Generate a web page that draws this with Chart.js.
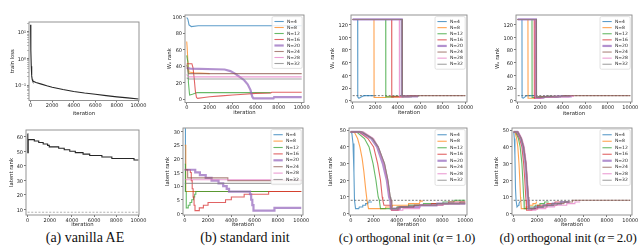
<!DOCTYPE html>
<html>
<head>
<meta charset="utf-8">
<script src="https://cdn.jsdelivr.net/npm/chart.js@4.4.1/dist/chart.umd.min.js"></script>
<style>
  body { margin: 0; width: 640px; height: 247px; overflow: hidden; background: #fff; position: relative; }
  canvas { position: absolute; }
  .cap { position: absolute; top: 230px; font-family: "Liberation Serif", serif; font-size: 14px; line-height: 16px; color: #111; white-space: nowrap; transform: translateX(-50%); }
  .cap.narrow { font-size: 13px; letter-spacing: -0.2px; }
  .ytick { position: absolute; font-family: "DejaVu Sans", sans-serif; font-size: 5px; line-height: 6px; color: #1a1a1a; white-space: nowrap; transform: translate(-100%, -50%); }
</style>
</head>
<body>
<div class="cap" style="left:85px">(a) vanilla AE</div>
<div class="cap" style="left:245px">(b) standard init</div>
<div class="cap narrow" style="left:407px">(c) orthogonal init (<i>α</i>&#8201;=&#8201;1.0)</div>
<div class="cap narrow" style="left:568px">(d) orthogonal init (<i>α</i>&#8201;=&#8201;2.0)</div>

<script>
// ---- data ----
const iterTicks = [0, 2000, 4000, 6000, 8000, 10000];
const nLabels = ['N=4', 'N=8', 'N=12', 'N=16', 'N=20', 'N=24', 'N=28', 'N=32'];
const latentDim = 8;

// (a) vanilla AE
const lossIter = [0, 10, 30, 60, 100, 150, 200, 500, 1000, 1500, 2000, 3000, 4000, 5000, 6000, 7000, 8000, 9000, 10000];
const lossVal  = [18, 12, 2.0, 0.5, 0.22, 0.16, 0.14, 0.125, 0.108, 0.094, 0.083, 0.068, 0.057, 0.05, 0.045, 0.04, 0.036, 0.033, 0.03];
const lossTicks = [0.1, 1, 10];
const lossTickText = ['10\u207B\u00B9', '10\u2070', '10\u00B9'];
const lossMinor = [0.03, 0.04, 0.05, 0.06, 0.07, 0.08, 0.09, 0.2, 0.3, 0.4, 0.5, 0.6, 0.7, 0.8, 0.9, 2, 3, 4, 5, 6, 7, 8, 9, 20];
const aeRankIter = [0, 15, 50, 600, 1000, 1400, 1800, 1950, 2800, 3300, 3800, 4300, 5000, 5600, 6700, 7600, 9600, 10000];
const aeRankVal  = [62, 49, 58, 57, 56, 55, 54, 53, 52, 51, 50, 49, 48, 47, 46, 45, 44, 44];
const aeRankTicks = [10, 20, 30, 40, 50, 60];

// (b) standard init  — [iteration, value] pairs, one list per N
const stdWRank = [
  [[0,99],[100,97],[200,90],[400,88],[1000,89],[10000,89]],
  [[0,70],[50,60],[120,40],[200,33],[600,32],[2000,31]],
  [[0,53],[100,45],[150,20],[250,5],[500,6],[900,8],[7300,8]],
  [[0,43],[450,43],[550,38],[650,25],[750,10],[850,2],[950,1],[1500,2],[2000,3],[3000,4],[4000,5],[5000,6],[6000,7],[7300,7.5],[7400,8.5],[10000,8.5]],
  [[0,38],[300,37],[3300,36],[3800,34],[4200,31],[4600,27],[5000,23],[5300,18],[5550,11],[5700,3],[5800,1],[7550,1],[7600,2.5],[10000,2.5]],
  [[0,42],[150,31],[10000,31]],
  [[0,30],[150,27],[10000,27]],
  [[0,26],[150,24.5],[10000,24.5]]
];
const stdLatent = [
  [[0,31],[60,8],[10000,8]],
  [[0,25],[90,8],[10000,8]],
  [[0,18],[60,8],[130,2],[300,3],[450,4],[600,5],[750,6],[850,7],[950,8],[7200,8]],
  [[0,16],[480,15],[560,12],[640,9],[720,6],[800,3],[880,1],[1250,2],[1600,3],[2000,4],[3500,5],[4000,6],[5100,7],[7200,8],[10000,8]],
  [[0,16],[900,15],[1300,14],[1800,13],[2300,12],[2900,11],[3300,10],[3600,9],[3800,8],[5600,7],[5700,5],[5800,3],[5900,1],[7700,2],[10000,2]],
  [[0,16],[250,13],[3700,12],[10000,12]],
  [[0,12.3],[10000,12.3]],
  [[0,11],[10000,11]]
];
const stdWTicks = [0, 20, 40, 60, 80, 100];
const stdLatentTicks = [0, 5, 10, 15, 20, 25, 30];

// (c) orthogonal init, alpha = 1.0
const orth1WRank = [
  [[0,128],[440,128],[450,6],[550,4],[750,6],[1000,8],[2000,8]],
  [[0,128],[1890,128],[1900,5],[2900,5],[3000,6],[4500,6],[4600,7],[5600,7]],
  [[0,128],[2930,128],[2940,6],[3600,6],[3700,7],[5600,7]],
  [[0,128],[3460,128],[3470,6],[4200,6],[4300,7],[5800,7]],
  [[0,128],[4350,128],[4360,7],[5800,7]],
  [[0,128],[4400,128],[4410,7],[5000,7],[5100,8],[10000,8]],
  [[0,128],[4140,128],[4150,6],[5000,6],[5100,7],[5800,7]],
  [[0,128],[4380,128],[4390,6],[5200,6],[5300,7],[5900,7]]
];
const orth1Latent = [
  [[0,49],[100,48],[200,42],[280,25],[330,8],[420,3],[700,3],[750,4],[1000,4],[1050,5],[1250,5],[1300,6],[1450,6],[1500,7],[1850,7]],
  [[0,49],[300,49],[600,45],[800,40],[1000,33],[1150,25],[1300,15],[1420,8],[1550,3],[3000,3],[3050,4],[3600,4],[3650,5],[5000,5],[5050,6],[6000,6],[6050,7.5],[6300,7.5]],
  [[0,49],[500,49],[1200,45],[1600,40],[1950,30],[2200,20],[2400,10],[2500,8],[2600,3],[4000,3],[4050,4],[5000,4],[5050,5],[6300,5],[6350,6],[8000,6],[8050,7],[9000,7],[9050,8],[10000,8]],
  [[0,49],[700,49],[1500,45],[2000,40],[2350,30],[2600,20],[2750,10],[2800,8],[2900,5],[3500,5],[3550,2],[4200,2],[4250,4],[5500,4],[5550,5],[7000,5],[7050,6],[8500,6],[8550,7],[10000,7]],
  [[0,49],[800,49],[1800,45],[2300,40],[2800,30],[3150,20],[3350,10],[3450,8],[3500,3],[4300,3],[4350,4],[6000,4],[6050,5],[7500,5],[7550,6],[10000,6]],
  [[0,49],[900,49],[1900,45],[2400,40],[2950,30],[3250,20],[3450,10],[3550,8],[3600,2],[4100,2],[4150,4],[5500,4],[5550,5],[8000,5],[8050,6],[9500,6],[9550,7],[10000,7]],
  [[0,49],[1100,49],[2000,45],[2400,40],[2900,30],[3200,20],[3400,10],[3500,8],[3600,2],[4500,2],[4550,3],[6000,3],[6050,5],[8000,5],[8050,6],[10000,6]],
  [[0,49],[1000,49],[1900,45],[2400,40],[2950,30],[3250,20],[3450,10],[3500,8],[3550,3],[4000,3],[4050,4],[5000,4],[5050,5],[7500,5],[7550,6],[10000,6]]
];

// (d) orthogonal init, alpha = 2.0
const orth2WRank = [
  [[0,128],[380,128],[390,5],[500,4],[650,6],[800,8],[1500,8]],
  [[0,128],[910,128],[920,4],[1500,4],[1550,5],[2000,5],[2050,6],[2500,6]],
  [[0,128],[1270,128],[1280,5],[1800,5],[1850,6],[2500,6],[2550,7],[3000,7]],
  [[0,128],[1470,128],[1480,4],[2000,4],[2050,5],[2800,5],[2850,6],[3500,6]],
  [[0,128],[1620,128],[1630,5],[2300,5],[2350,6],[3500,6],[3550,7],[4800,7]],
  [[0,128],[1650,128],[1660,6],[2500,6],[2550,7],[4000,7],[4050,8],[10000,8]],
  [[0,128],[1560,128],[1570,4],[2200,4],[2250,5],[3200,5],[3250,6],[4500,6],[4550,7],[5000,7]],
  [[0,128],[1640,128],[1650,5],[2400,5],[2450,6],[3800,6],[3850,7],[4700,7]]
];
const orth2Latent = [
  [[0,49],[50,45],[100,35],[150,15],[200,8],[280,4],[350,4],[400,5],[450,6],[500,7],[600,7.5]],
  [[0,49],[100,49],[250,45],[350,40],[450,30],[520,20],[580,10],[600,8],[650,3],[1000,3],[1050,4],[1300,4],[1350,5],[1600,5],[1650,6],[1900,6],[1950,7],[2000,7]],
  [[0,49],[150,49],[400,45],[550,40],[700,30],[780,20],[850,10],[880,8],[900,3],[1300,3],[1350,4],[1800,4],[1850,5],[2200,5],[2250,6],[2600,6],[2650,7],[3000,7]],
  [[0,49],[200,49],[500,45],[700,40],[850,30],[950,20],[1030,10],[1060,8],[1100,2],[1500,2],[1550,3],[2000,3],[2050,5],[2800,5],[2850,6],[3500,6],[3550,7],[4000,7]],
  [[0,49],[300,49],[600,45],[800,40],[1000,30],[1100,20],[1200,10],[1230,8],[1270,3],[1800,3],[1850,4],[2500,4],[2550,5],[3300,5],[3350,6],[4000,6],[4050,7],[4800,7]],
  [[0,49],[350,49],[650,45],[850,40],[1050,30],[1150,20],[1250,10],[1280,8],[1320,3],[2000,3],[2050,4],[2800,4],[2850,5],[3700,5],[3750,6],[4300,6],[4350,7],[5000,7],[5050,8],[10000,8]],
  [[0,49],[400,49],[700,45],[900,40],[1080,30],[1180,20],[1270,10],[1300,8],[1340,2],[1900,2],[1950,3],[2700,3],[2750,4],[3500,4],[3550,5],[4500,5],[4550,6],[5200,6],[5250,7],[5700,7]],
  [[0,49],[350,49],[650,45],[850,40],[1050,30],[1150,20],[1250,10],[1280,8],[1310,3],[1700,3],[1750,4],[2500,4],[2550,5],[3200,5],[3250,6],[4000,6],[4050,7],[4700,7]]
];
const orthWTicks = [0, 20, 40, 60, 80, 100, 120];
const orthLatentTicks = [0, 10, 20, 30, 40, 50];

// ---- styling ----
const nColors = ['#1f77b4', '#ff7f0e', '#2ca02c', '#d62728', '#9467bd', '#8c564b', '#e377c2', '#7f7f7f'];
const FONT = '"DejaVu Sans", sans-serif';
const TICK_SIZE = 5;
const TITLE_SIZE = 5.3;
const TITLE_LH = TITLE_SIZE * 1.2;
const TICK_LEN = 2;

function fade(hex, a) {
  const n = parseInt(hex.slice(1), 16);
  return `rgba(${n >> 16},${(n >> 8) & 255},${n & 255},${a})`;
}

// box outline drawn on top of the lines, like matplotlib spines
const framePlugin = {
  id: 'frame',
  afterDatasetsDraw(chart) {
    const a = chart.chartArea, ctx = chart.ctx;
    ctx.save();
    ctx.strokeStyle = '#888';
    ctx.lineWidth = 0.9;
    ctx.strokeRect(a.left, a.top, a.right - a.left, a.bottom - a.top);
    ctx.restore();
  }
};

// legend inside the axes, upper right
const innerLegend = {
  id: 'innerLegend',
  afterDraw(chart, args, opts) {
    if (!opts.show) return;
    const ctx = chart.ctx, area = chart.chartArea;
    const items = chart.data.datasets.filter(d => d.inLegend);
    const rowH = opts.rowH, pad = 2.4, lineLen = 9.3, gap = 3.2;
    ctx.save();
    ctx.font = `${opts.size}px ${FONT}`;
    const tw = Math.max(...items.map(d => ctx.measureText(d.label).width));
    const w = pad + lineLen + gap + tw + pad;
    const h = pad * 2 + rowH * items.length - 1;
    const x0 = area.right - 1.8 - w, y0 = area.top + 1.6;
    ctx.beginPath();
    ctx.roundRect(x0, y0, w, h, 1.5);
    ctx.fillStyle = 'rgba(255,255,255,0.85)';
    ctx.fill();
    ctx.strokeStyle = '#d6d6d6';
    ctx.lineWidth = 0.7;
    ctx.stroke();
    ctx.textBaseline = 'middle';
    items.forEach((d, i) => {
      const y = y0 + pad + rowH * (i + 0.5) - 0.5;
      ctx.beginPath();
      ctx.moveTo(x0 + pad, y);
      ctx.lineTo(x0 + pad + lineLen, y);
      ctx.strokeStyle = d.borderColor;
      ctx.lineWidth = d.borderWidth;
      ctx.stroke();
      ctx.fillStyle = '#222';
      ctx.fillText(d.label, x0 + pad + lineLen + gap, y);
    });
    ctx.restore();
  }
};

function nSeries(list, stepped) {
  return list.map((pts, i) => ({
    label: nLabels[i],
    inLegend: true,
    data: pts,
    borderColor: fade(nColors[i], 0.72),
    borderWidth: i === 4 ? 2.2 : 1.1,
    stepped: stepped,
    order: -i
  }));
}

function refLine(color) {
  return {
    label: 'latent dim',
    data: [[0, latentDim], [10000, latentDim]],
    borderColor: color,
    borderWidth: 0.8,
    borderDash: [2, 1.6],
    order: 100
  };
}

function makePanel(p) {
  const [L, T, R, B] = p.box;
  const Wy = L - p.yTitleX + TITLE_LH / 2;
  const Hx = p.xTitleY - B + TITLE_LH / 2;
  const offL = 40, offT = 8, padR = 14;
  const cv = document.createElement('canvas');
  const width = Math.round(R - L) + offL + padR;
  const height = Math.ceil(B - T + offT + Hx + 3);
  const cvLeft = L - offL, cvTop = T - offT;
  cv.width = width; cv.height = height;
  cv.style.left = cvLeft + 'px';
  cv.style.top = cvTop + 'px';
  document.body.appendChild(cv);

  const tickFont = { family: FONT, size: TICK_SIZE };
  const titleFont = { family: FONT, size: TITLE_SIZE };
  const markTicks = p.yTicks.concat(p.yMinor || []);

  const chart = new Chart(cv, {
    type: 'line',
    data: { datasets: p.datasets },
    options: {
      responsive: false,
      animation: false,
      devicePixelRatio: 1,
      layout: { padding: { left: offL - Wy, top: offT, right: padR, bottom: height - offT - (B - T) - Hx } },
      elements: { point: { radius: 0 }, line: { tension: 0, borderCapStyle: 'butt' } },
      plugins: {
        legend: { display: false },
        tooltip: { enabled: false },
        innerLegend: { show: p.legend, rowH: p.rowH || 6.3, size: 4.5 }
      },
      scales: {
        x: {
          type: 'linear',
          min: p.xRange[0], max: p.xRange[1],
          border: { display: false },
          grid: { display: true, drawOnChartArea: false, drawTicks: true, tickLength: TICK_LEN, tickColor: '#777' },
          ticks: { font: tickFont, color: '#222', padding: 0.5, maxRotation: 0, autoSkip: false, callback: v => String(v) },
          afterBuildTicks: s => { s.ticks = iterTicks.map(v => ({ value: v })); },
          afterFit: s => { s.height = Hx; s.paddingLeft = 0; s.paddingRight = 0; },
          title: { display: true, text: 'iteration', font: titleFont, color: '#222', padding: 0 }
        },
        y: {
          type: p.yLog ? 'logarithmic' : 'linear',
          min: p.yRange[0], max: p.yRange[1],
          border: { display: false },
          grid: {
            display: true, drawOnChartArea: false, drawTicks: true, tickLength: TICK_LEN,
            tickColor: c => (p.yTicks.includes(c.tick.value) ? '#777' : '#bbb')
          },
          ticks: { display: false, autoSkip: false },
          afterBuildTicks: s => { s.ticks = markTicks.map(v => ({ value: v })); },
          afterFit: s => { s.width = Wy; s.paddingTop = 0; s.paddingBottom = 0; },
          title: { display: true, text: p.yTitle, font: titleFont, color: '#222', padding: 0 }
        }
      }
    },
    plugins: [framePlugin, innerLegend]
  });

  // y tick labels as page text, placed through the chart's own y scale
  const ys = chart.scales.y;
  p.yTicks.forEach((v, i) => {
    const el = document.createElement('div');
    el.className = 'ytick';
    el.textContent = p.yTickText ? p.yTickText[i] : String(v);
    el.style.left = (cvLeft + ys.right - TICK_LEN - 1) + 'px';
    el.style.top = (cvTop + ys.getPixelForValue(v) + 0.3) + 'px';
    document.body.appendChild(el);
  });
}

const WRANK = 'W\u2091 rank';

const panels = [
  { box: [29, 22, 139, 100.5], yTitleX: 12.7, xTitleY: 113.3, xRange: [-150, 10050], yLog: true, yRange: [0.0263, 22.9],
    yTicks: lossTicks, yTickText: lossTickText, yMinor: lossMinor, yTitle: 'train loss', legend: false,
    datasets: [{ label: 'loss', data: lossIter.map((x, i) => [x, lossVal[i]]), borderColor: '#262626', borderWidth: 1.1 }] },
  { box: [185, 15, 304, 102.5], yTitleX: 170, xTitleY: 112.7, xRange: [-150, 10200], yRange: [-4, 102],
    yTicks: stdWTicks, yTitle: WRANK, legend: true, rowH: 6.0,
    datasets: nSeries(stdWRank, false) },
  { box: [351, 15, 467, 102], yTitleX: 332.7, xTitleY: 112.7, xRange: [-150, 10150], yRange: [-2, 135],
    yTicks: orthWTicks, yTitle: WRANK, legend: true, rowH: 6.1,
    datasets: nSeries(orth1WRank, false).concat([refLine('#555')]) },
  { box: [516, 15, 632, 102], yTitleX: 497.3, xTitleY: 113.3, xRange: [-150, 10150], yRange: [-2, 135],
    yTicks: orthWTicks, yTitle: WRANK, legend: true, rowH: 6.1,
    datasets: nSeries(orth2WRank, false).concat([refLine('#555')]) },
  { box: [26, 130, 139, 215], yTitleX: 11.7, xTitleY: 225, xRange: [-150, 10050], yRange: [6.1, 64.6],
    yTicks: aeRankTicks, yTitle: 'latent rank', legend: false,
    datasets: [{ label: 'rank', data: aeRankIter.map((x, i) => [x, aeRankVal[i]]), borderColor: '#262626', borderWidth: 1.1, stepped: true }, refLine('#999')] },
  { box: [183, 128, 303, 215], yTitleX: 167.3, xTitleY: 224.3, xRange: [-150, 10150], yRange: [-0.6, 31.3],
    yTicks: stdLatentTicks, yTitle: 'latent rank', legend: true, rowH: 6.4,
    datasets: nSeries(stdLatent, true) },
  { box: [349, 128, 467, 215], yTitleX: 331, xTitleY: 225, xRange: [-150, 10150], yRange: [-0.8, 51.3],
    yTicks: orthLatentTicks, yTitle: 'latent rank', legend: true, rowH: 6.5,
    datasets: nSeries(orth1Latent, false).concat([refLine('#555')]) },
  { box: [512, 128, 632, 215], yTitleX: 496.7, xTitleY: 225, xRange: [-150, 10150], yRange: [-0.8, 51.3],
    yTicks: orthLatentTicks, yTitle: 'latent rank', legend: true, rowH: 6.5,
    datasets: nSeries(orth2Latent, false).concat([refLine('#555')]) }
];

panels.forEach(makePanel);
</script>
</body>
</html>
